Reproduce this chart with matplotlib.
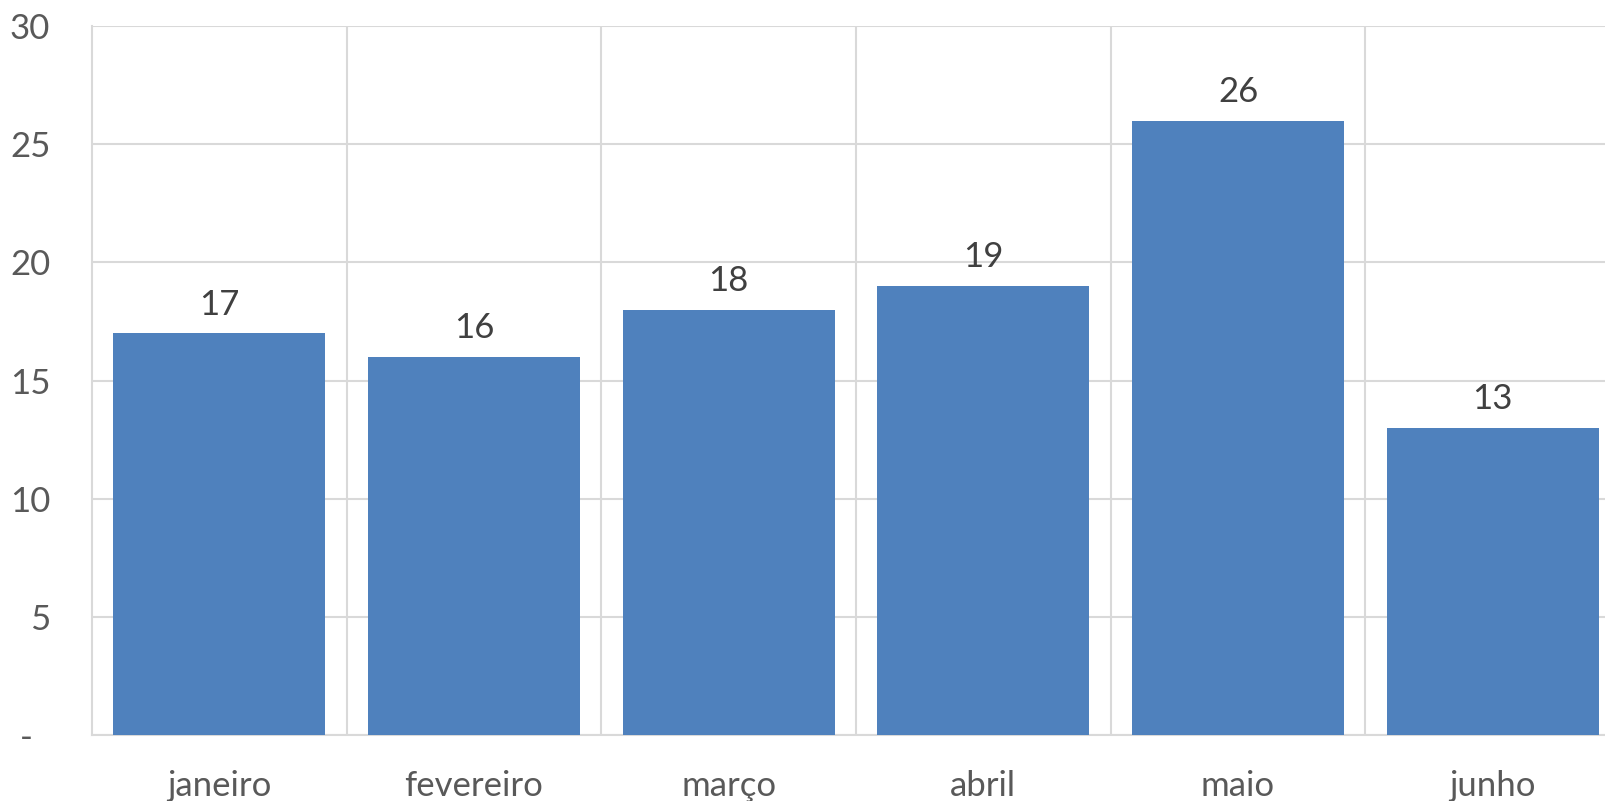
import matplotlib
matplotlib.use("Agg")
import matplotlib.pyplot as plt
from matplotlib.ticker import FixedLocator, FuncFormatter

categories = ["janeiro", "fevereiro", "março", "abril", "maio", "junho"]
values = [17, 16, 18, 19, 26, 13]
yticks = [0, 5, 10, 15, 20, 25, 30]

plt.rcParams['font.family'] = ['Lato', 'DejaVu Sans']
text_color = "#595959"
grid_color = "#D9D9D9"
bar_color = "#4F81BD"

fig = plt.figure(figsize=(16.05, 8.01), dpi=100)
W, H = 1605, 801
left, right, top, bottom = 92, 1620, 26, 735
ax = fig.add_axes([left / W, (H - bottom) / H, (right - left) / W, (bottom - top) / H])

x = list(range(len(categories)))
bars = ax.bar(x, values, width=0.833, color=bar_color, zorder=3)

ax.set_xlim(-0.5, len(categories) - 0.5)
ax.set_ylim(0, 30)

ax.yaxis.set_major_locator(FixedLocator(yticks))
ax.yaxis.set_major_formatter(FuncFormatter(lambda v, p: "-  " if v == 0 else f"{int(v)}"))
ax.set_xticks(x)
ax.set_xticklabels(categories)

ax.grid(axis="y", color=grid_color, linewidth=1.5, zorder=0)
ax.set_xticks([i + 0.5 for i in x[:-1]], minor=True)
ax.grid(axis="x", which="minor", color=grid_color, linewidth=1.5, zorder=0)
ax.grid(axis="x", which="major", visible=False)

for s in ["top", "right"]:
    ax.spines[s].set_visible(False)
ax.spines["left"].set_color(grid_color)
ax.spines["left"].set_linewidth(1.5)
ax.spines["bottom"].set_color(grid_color)
ax.spines["bottom"].set_linewidth(1.5)

ax.tick_params(axis="both", which="both", length=0, colors=text_color, labelsize=25)
ax.tick_params(axis="y", pad=30)
ax.tick_params(axis="x", pad=25)

for rect, v in zip(bars, values):
    ax.annotate(f"{v}", (rect.get_x() + rect.get_width() / 2, v),
                xytext=(0, 9), textcoords="offset points",
                ha="center", va="bottom", fontsize=25, color="#404040")

fig.savefig("out.png", dpi=100)
